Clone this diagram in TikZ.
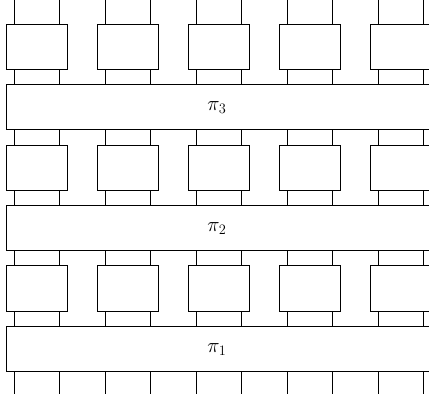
\documentclass[tikz,border=0pt]{standalone}
\begin{document}
\begin{tikzpicture}[x=1pt,y=-1pt,
 tens/.style={draw,fill=white,line width=0.6pt,minimum width=60.7pt,minimum height=45.5pt,inner sep=0pt,anchor=north west},
 bar/.style={draw,fill=white,line width=0.6pt,minimum width=440pt,minimum height=45pt,inner sep=0pt,anchor=north west},
 leg/.style={line width=0.6pt},
 lab/.style={inner sep=0pt,font=\huge}]
\useasboundingbox (0,0) rectangle (429,403);
\clip (0,0) rectangle (429,403);
\foreach \k in {0,...,9} {
  \coordinate (t\k) at ({14+45.5*\k},0);
  \coordinate (b\k) at ({14+45.5*\k},394);
  \draw[leg] (t\k) -- (b\k);
}
\foreach \r/\y in {1/265.4, 2/144.6, 3/23.7} {
  \foreach \k in {0,...,4} {
    \node[tens] (u\r\k) at ({6.3+91*\k},\y) {};
  }
}
\node[bar] (p3) at (6.3,84.3) {};
\node[bar] (p2) at (6.3,205.5) {};
\node[bar] (p1) at (6.3,326.3) {};
\node[lab] (l3) at (217,107.5) {$\pi_3$};
\node[lab] (l2) at (217,228.5) {$\pi_2$};
\node[lab] (l1) at (217,349.3) {$\pi_1$};
\end{tikzpicture}
\end{document}
